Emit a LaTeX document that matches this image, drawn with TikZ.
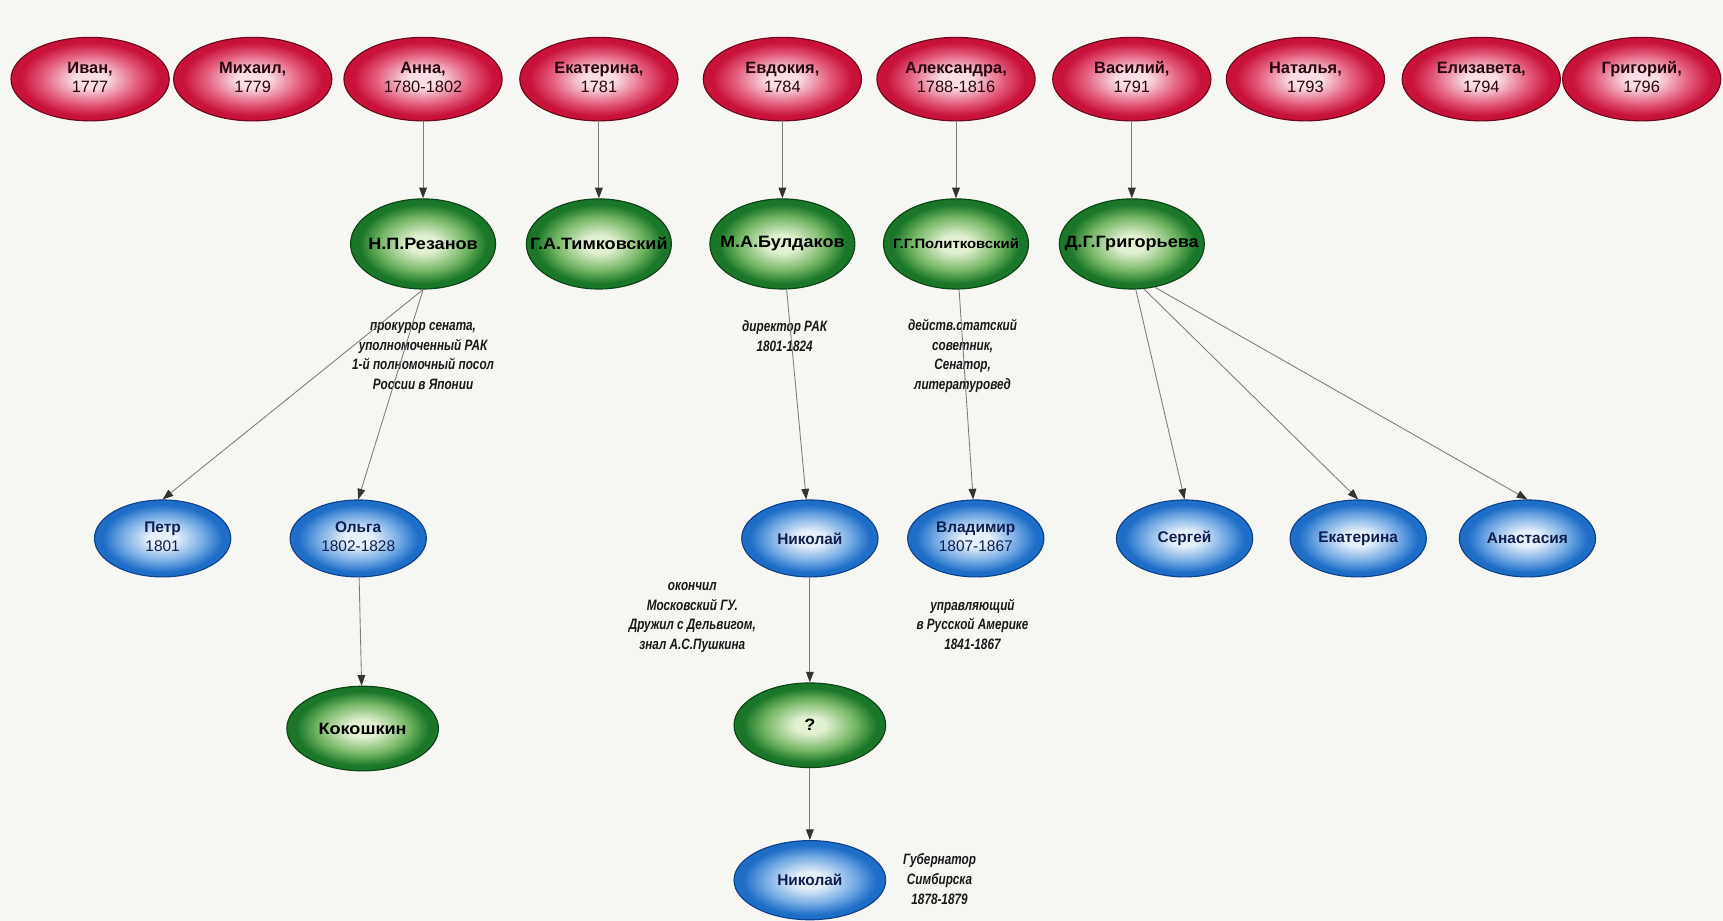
\documentclass[tikz,border=0pt]{standalone}
\usepackage{fontspec}
\setmainfont{Liberation Sans}
\newfontfamily\widefont{Liberation Sans}[FakeStretch=1.1]
\newfontfamily\annfont{Liberation Sans}[FakeStretch=0.78]
\usetikzlibrary{shapes.geometric,arrows.meta}

\definecolor{bgc}{RGB}{246,246,243}
\definecolor{redE}{RGB}{200,18,58}
\definecolor{redM}{RGB}{228,92,124}
\definecolor{redC}{RGB}{248,222,228}
\definecolor{redB}{RGB}{110,8,28}
\definecolor{redT}{RGB}{40,8,14}
\definecolor{grnE}{RGB}{26,118,40}
\definecolor{grnM}{RGB}{116,182,100}
\definecolor{grnC}{RGB}{226,240,210}
\definecolor{grnB}{RGB}{12,70,22}
\definecolor{bluE}{RGB}{30,110,200}
\definecolor{bluM}{RGB}{116,170,228}
\definecolor{bluC}{RGB}{230,240,250}
\definecolor{bluB}{RGB}{14,66,140}
\definecolor{bluT}{RGB}{16,30,80}
\definecolor{linec}{RGB}{125,125,125}
\definecolor{annc}{RGB}{25,25,25}

\pgfdeclareradialshading{redsh}{\pgfpoint{0bp}{0bp}}{color(0bp)=(redC); color(5bp)=(redC); color(15bp)=(redM); color(22bp)=(redE); color(25bp)=(redE); color(50bp)=(redE)}
\pgfdeclareradialshading{grnsh}{\pgfpoint{0bp}{0bp}}{color(0bp)=(grnC); color(5bp)=(grnC); color(15bp)=(grnM); color(22bp)=(grnE); color(25bp)=(grnE); color(50bp)=(grnE)}
\pgfdeclareradialshading{blush}{\pgfpoint{0bp}{0bp}}{color(0bp)=(bluC); color(5bp)=(bluC); color(15bp)=(bluM); color(22bp)=(bluE); color(25bp)=(bluE); color(50bp)=(bluE)}

\newcommand\TwoLine[2]{\makebox[0pt]{\begin{tabular}{@{}c@{}}\textbf{#1}\\#2\end{tabular}}}
\newcommand\OneLine[1]{\makebox[0pt]{\textbf{#1}}}

\tikzset{
  pers/.style={ellipse, inner sep=0pt, line width=0.6pt},
  rednd/.style={pers, minimum width=2.88cm, minimum height=1.52cm, shading=redsh, draw=redB, text=redT, font=\fontsize{8.5}{9.8}\selectfont},
  grnnd/.style={pers, minimum width=2.64cm, minimum height=1.64cm, shading=grnsh, draw=grnB, text=black, font=\widefont\fontsize{8.5}{10}\selectfont},
  blund/.style={pers, minimum width=2.48cm, minimum height=1.40cm, shading=blush, draw=bluB, text=bluT, font=\fontsize{8}{9.6}\selectfont},
  ann/.style={align=center, text=annc, font=\annfont\bfseries\itshape\fontsize{7.8}{10.2}\selectfont, inner sep=0pt},
  link/.style={draw=linec, line width=0.45pt, -{Triangle[width=4pt,length=5.5pt,color=black!80]}},
}

\begin{document}
\begin{tikzpicture}[x=0.02cm, y=-0.02cm]
\fill[bgc] (0,0) rectangle (1568,838);
\useasboundingbox (0,0) rectangle (1568,838);

% top row
\node[rednd] (ivan) at (82,72) {\TwoLine{Иван,}{1777}};
\node[rednd] (mikh) at (230,72) {\TwoLine{Михаил,}{1779}};
\node[rednd] (anna) at (385,72) {\TwoLine{Анна,}{1780-1802}};
\node[rednd] (ekat) at (545,72) {\TwoLine{Екатерина,}{1781}};
\node[rednd] (evdo) at (712,72) {\TwoLine{Евдокия,}{1784}};
\node[rednd] (alex) at (870,72) {\TwoLine{Александра,}{1788-1816}};
\node[rednd] (vasi) at (1030,72) {\TwoLine{Василий,}{1791}};
\node[rednd] (nata) at (1188,72) {\TwoLine{Наталья,}{1793}};
\node[rednd] (eliz) at (1348,72) {\TwoLine{Елизавета,}{1794}};
\node[rednd] (grigo) at (1494,72) {\TwoLine{Григорий,}{1796}};

% spouses
\node[grnnd] (rez) at (385,222) {\OneLine{Н.П.Резанов}};
\node[grnnd] (tim) at (545,222) {\OneLine{Г.А.Тимковский}};
\node[grnnd] (buld) at (712,222) {\OneLine{М.А.Булдаков}};
\node[grnnd] (pol) at (870,222) {\OneLine{\fontsize{7}{8}\selectfont Г.Г.Политковский}};
\node[grnnd] (grgv) at (1030,222) {\OneLine{Д.Г.Григорьева}};

% annotations
\node[ann] (arez) at (385,324) {прокурор сената,\\уполномоченный РАК\\1-й полномочный посол\\России в Японии};
\node[ann] (abuld) at (714,306) {директор РАК\\1801-1824};
\node[ann] (apol) at (876,324) {действ.статский\\советник,\\Сенатор,\\литературовед};

% children
\node[blund] (petr) at (148,490) {\TwoLine{Петр}{1801}};
\node[blund] (olga) at (326,490) {\TwoLine{Ольга}{1802-1828}};
\node[blund] (nik1) at (737,490) {\OneLine{Николай}};
\node[blund] (vlad) at (888,490) {\TwoLine{Владимир}{1807-1867}};
\node[blund] (serg) at (1078,490) {\OneLine{Сергей}};
\node[blund] (ekat2) at (1236,490) {\OneLine{Екатерина}};
\node[blund] (anas) at (1390,490) {\OneLine{Анастасия}};

\node[ann] (anik) at (630,562) {окончил\\Московский ГУ.\\Дружил с Дельвигом,\\знал А.С.Пушкина};
\node[ann] (avlad) at (885,568) {управляющий\\в Русской Америке\\1841-1867};

% grandchildren
\node[grnnd, minimum width=2.76cm, minimum height=1.54cm] (kok) at (330,663) {\OneLine{Кокошкин}};
\node[grnnd, minimum width=2.76cm, minimum height=1.54cm] (q) at (737,660) {\OneLine{?}};
\node[blund, minimum width=2.76cm, minimum height=1.44cm] (nik2) at (737,801) {\OneLine{Николай}};
\node[ann] (anik2) at (855,800) {Губернатор\\Симбирска\\1878-1879};

% connectors
\draw[link] (anna) -- (rez);
\draw[link] (ekat) -- (tim);
\draw[link] (evdo) -- (buld);
\draw[link] (alex) -- (pol);
\draw[link] (vasi) -- (grgv);
\draw[link] (rez.south) -- (petr.north);
\draw[link] (rez.south) -- (olga.north);
\draw[link] (buld) -- (nik1);
\draw[link] (pol) -- (vlad);
\draw[link] (grgv.-85) -- (serg.north);
\draw[link] (grgv.-75) -- (ekat2.north);
\draw[link] (grgv.-62) -- (anas.north);
\draw[link] (olga) -- (kok);
\draw[link] (nik1) -- (q);
\draw[link] (q) -- (nik2);
\end{tikzpicture}
\end{document}
